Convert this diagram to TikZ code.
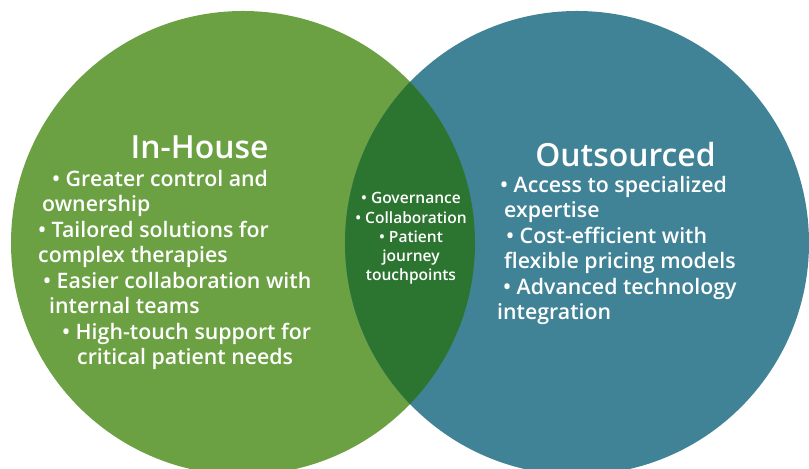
\documentclass[tikz,border=0pt]{standalone}
\usepackage{fontspec}
\setmainfont{Open Sans}[BoldFont={Open Sans Semibold}]
\usepackage{tikz}
\usetikzlibrary{positioning}
\definecolor{inhouse}{RGB}{107,161,67}
\definecolor{outsourced}{RGB}{65,131,150}
\definecolor{shared}{RGB}{44,117,49}

\begin{document}
\begin{tikzpicture}[x=1bp, y=1bp,
  title/.style={text=white, inner sep=0pt, font=\fontsize{32}{38}\selectfont\bfseries},
  items/.style={text=white, inner sep=0pt, align=left, font=\fontsize{21.4}{25.6}\selectfont\bfseries},
  core/.style={text=white, inner sep=0pt, align=center, font=\fontsize{15.6}{19.3}\selectfont\bfseries}
]
\useasboundingbox (0,0) rectangle (809,469);
\coordinate (left) at (243,226);
\coordinate (right) at (577,226);

% the two sets and their overlap
\fill[inhouse] (left) circle (232);
\fill[outsourced] (right) circle (232);
\begin{scope}
  \clip (left) circle (232);
  \fill[shared] (right) circle (232);
\end{scope}

\node[title] (inhouseTitle) at (199.5,322) {In-House};
\node[items, anchor=north west] (inhouseList) at (38,299) {%
  \hspace*{14bp}• Greater control and\\
  \hspace*{4bp}ownership\\
  • Tailored solutions for\\
  complex therapies\\
  \hspace*{5bp}• Easier collaboration with\\
  \hspace*{11bp}internal teams\\
  \hspace*{24bp}• High-touch support for\\
  \hspace*{39bp}critical patient needs};

\node[title] (outsourcedTitle) at (625.5,314) {Outsourced};
\node[items, anchor=north west] (outsourcedList) at (497,293) {%
  \hspace*{3bp}• Access to specialized\\
  \hspace*{7bp}expertise\\
  \hspace*{9bp}• Cost-efficient with\\
  \hspace*{7bp}flexible pricing models\\
  \hspace*{6bp}• Advanced technology\\
  integration};

\node[core, anchor=north] (sharedList) at (411,276.5) {• Governance\\• Collaboration\\• Patient\\journey\\touchpoints};
\end{tikzpicture}
\end{document}
